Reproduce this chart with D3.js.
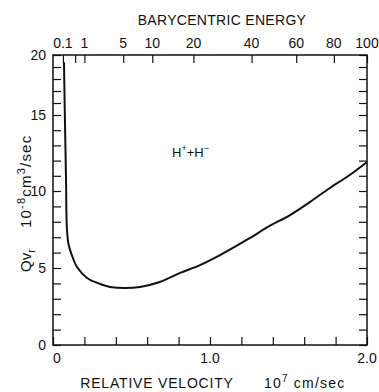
<!DOCTYPE html>
<html><head><meta charset="utf-8">
<script src="https://cdn.jsdelivr.net/npm/d3@7"></script>
<style>
body{margin:0;background:#fff;}
text{font-family:"Liberation Sans",Arial,sans-serif;fill:#111;}
</style></head>
<body><svg id="c" width="379" height="392"></svg>
<script>
// Data
const velocity = [0.070,0.076,0.083,0.089,0.100,0.120,0.153,0.217,0.300,0.363,0.460,0.554,0.680,0.810,0.936,1.064,1.190,1.255,1.380,1.510,1.637,1.764,1.890,2.000];
const rate     = [19.4,14.67,10.72,7.47,6.49,5.84,5.06,4.35,3.96,3.77,3.70,3.77,4.09,4.68,5.19,5.84,6.56,6.95,7.73,8.44,9.29,10.20,11.05,11.91];
const yMajorTicks = [0,5,10,15,20];
const xMajorTicks = [0,1.0,2.0];
const xMajorLabels = ["0","1.0","2.0"];
const energyTicks = [0.1,0.5,1,5,10,20,40,60,80,100];
const energyLabels = {0.1:"0.1",1:"1",5:"5",10:"10",20:"20",40:"40",60:"60",80:"80",100:"100"};

const svg = d3.select("#c");
const L=53,R=367,T=55,B=345;
const x = d3.scaleLinear().domain([0,2]).range([L,R]);
// the printed ordinate is slightly non-uniform; follow its major tick positions
const y = d3.scaleLinear().domain(yMajorTicks).range([B,268,191,115,T]);
const xe = d3.scaleSqrt().domain([0,100]).range([L,R]);

// frame
svg.append("rect").attr("x",L).attr("y",T).attr("width",R-L).attr("height",B-T)
  .attr("fill","none").attr("stroke","#111").attr("stroke-width",1.5);

// left/right y ticks (inward)
const yt = d3.range(0,21,1);
svg.append("g").attr("transform",`translate(${L},0)`)
  .call(d3.axisRight(y).tickValues(yt).tickSize(8).tickFormat(""))
  .call(g=>{g.select(".domain").remove();g.selectAll("line").attr("stroke","#111").attr("stroke-width",1.2);});
svg.append("g").attr("transform",`translate(${R},0)`)
  .call(d3.axisLeft(y).tickValues(yt).tickSize(8).tickFormat(""))
  .call(g=>{g.select(".domain").remove();g.selectAll("line").attr("stroke","#111").attr("stroke-width",1.2);});
// y labels
svg.append("g").selectAll("text").data(yMajorTicks).join("text")
  .attr("x",46).attr("y",d=>y(d)).attr("dy","0.35em").attr("text-anchor","end")
  .attr("font-size",14).text(d=>d);

// bottom ticks (inward)
svg.append("g").attr("transform",`translate(0,${B})`)
  .call(d3.axisTop(x).tickValues(d3.range(0,2.01,0.2)).tickSize(8).tickFormat(""))
  .call(g=>{g.select(".domain").remove();g.selectAll("line").attr("stroke","#111").attr("stroke-width",1.2);});
svg.append("g").selectAll("text").data(xMajorTicks).join("text")
  .attr("x",(d,i)=>x(d)+(i===0?4:0)).attr("y",363).attr("text-anchor","middle")
  .attr("font-size",14).text((d,i)=>xMajorLabels[i]);

// top energy ticks (inward)
svg.append("g").attr("transform",`translate(0,${T})`)
  .call(d3.axisBottom(xe).tickValues(energyTicks).tickSize(8).tickFormat(""))
  .call(g=>{g.select(".domain").remove();g.selectAll("line").attr("stroke","#111").attr("stroke-width",1.2);});
svg.append("g").selectAll("text").data(energyTicks.filter(d=>energyLabels[d])).join("text")
  .attr("x",d=>xe(d)).attr("y",48).attr("text-anchor","middle")
  .attr("font-size",14).text(d=>energyLabels[d]);

// titles
svg.append("text").attr("x",222).attr("y",25).attr("text-anchor","middle")
  .attr("font-size",14).attr("letter-spacing",0.3).text("BARYCENTRIC ENERGY");
svg.append("text").attr("x",157).attr("y",388).attr("text-anchor","middle")
  .attr("font-size",14).attr("letter-spacing",0.8).text("RELATIVE VELOCITY");
const ul = svg.append("text").attr("x",264).attr("y",388).attr("font-size",14).attr("letter-spacing",1.2);
ul.append("tspan").text("10");
ul.append("tspan").attr("dy",-6).attr("font-size",10).text("7");
ul.append("tspan").attr("dy",6).text(" cm/sec");

// y axis label
const q = svg.append("text").attr("transform","translate(31,272) rotate(-90)").attr("font-size",15);
q.append("tspan").text("Qv");
q.append("tspan").attr("dy",4).attr("font-size",11).text("r");
const yl = svg.append("text").attr("transform","translate(31,228) rotate(-90)")
  .attr("font-size",15).attr("letter-spacing",1.2);
yl.append("tspan").text("10");
yl.append("tspan").attr("dy",-6).attr("font-size",11).text("-8");
yl.append("tspan").attr("dy",6).text("cm");
yl.append("tspan").attr("dy",-6).attr("font-size",11).text("3");
yl.append("tspan").attr("dy",6).text("/sec");

// reaction label
const rl = svg.append("text").attr("x",172).attr("y",157).attr("font-size",13);
rl.append("tspan").text("H");
rl.append("tspan").attr("dy",-6).attr("font-size",9).text("+");
rl.append("tspan").attr("dy",6).text("+H");
rl.append("tspan").attr("dy",-6).attr("font-size",9).text("−");

// curve
const pts = velocity.map((v,i)=>[v,rate[i]]);
svg.append("path").datum(pts)
  .attr("d",d3.line().x(d=>x(d[0])).y(d=>y(d[1])).curve(d3.curveCatmullRom.alpha(0.5)))
  .attr("fill","none").attr("stroke","#111").attr("stroke-width",2);
</script></body></html>
